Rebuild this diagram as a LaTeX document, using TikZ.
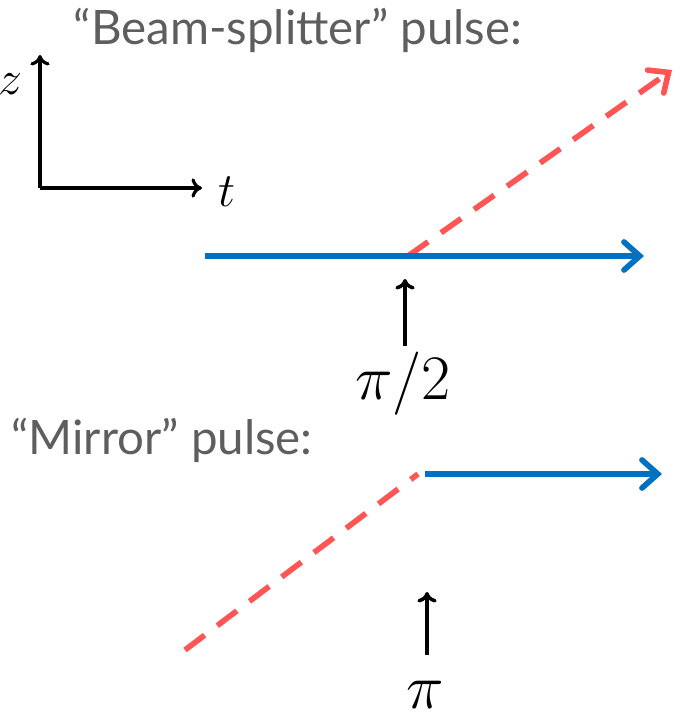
\documentclass[tikz,border=0pt]{standalone}
\usepackage{amsmath}
\usepackage{graphicx}
\usepackage{fontspec}
\setmainfont{Lato}
\usetikzlibrary{positioning,calc,arrows.meta}
\definecolor{beamblue}{HTML}{0070C0}
\definecolor{beamred}{HTML}{FF5555}
\definecolor{labelgray}{HTML}{5E5E5E}
\newcommand{\pulsemath}[1]{\scalebox{1.45}{$#1$}}
\newcommand{\axismath}[1]{\scalebox{1.1}{$#1$}}

\begin{document}
\begin{tikzpicture}[
  x=0.02cm, y=-0.02cm,
  caption/.style={text=labelgray, font=\fontsize{27}{32}\selectfont, inner sep=0pt},
  axis/.style={line width=1.8pt, -{To[length=6pt,width=11pt]}, black},
  axislabel/.style={font=\fontsize{24.88}{30}\selectfont, inner sep=0pt},
  pulselabel/.style={font=\fontsize{24.88}{30}\selectfont, inner sep=0pt},
  path1/.style={line width=3.2pt, beamblue,
                -{Straight Barb[length=9pt,width=16pt,line cap=round]}},
  path2/.style={line width=3.2pt, beamred, dash pattern=on 14pt off 9pt},
  kick/.style={line width=2pt, -{To[length=6pt,width=11pt]}, black},
]
\useasboundingbox (0,0) rectangle (683,719);

% Beam-splitter panel
\node[caption] (bstitle) at (298,30) {“Beam-splitter” pulse:};

% Axes
\coordinate (origin) at (40,188);
\coordinate (ztip) at (40,55);
\coordinate (ttip) at (202,188);
\draw[axis] (origin) -- (ztip);
\draw[axis] (origin) -- (ttip);
\node[axislabel] (zlab) at (11,84) {\axismath{z}};
\node[axislabel] (tlab) at (227,192) {\axismath{t}};

% Split: blue continues, red kicked upward
\coordinate (bsin) at (205,256);
\coordinate (bssplit) at (408,256);
\coordinate (bsout) at (644,256);
\coordinate (bskick) at (672,70);
\draw[path2, -{Straight Barb[length=9pt,width=16pt,line cap=round]}] (bssplit) -- (bskick);
\draw[path1] (bsin) -- (bsout);

% pi/2 pulse marker
\node[pulselabel] (halfpi) at (403,384) {\pulsemath{\pi/2}};
\coordinate (halfpitop) at (405,279);
\coordinate (halfpibase) at (405,346);
\draw[kick] (halfpibase) -- (halfpitop);

% Mirror panel
\node[caption] (mrtitle) at (162,440) {“Mirror” pulse:};

\coordinate (mrin) at (185,650);
\coordinate (mrturn) at (418,474);
\coordinate (mrstart) at (425,474);
\coordinate (mrout) at (662,474);
\draw[path2] (mrin) -- (mrturn);
\draw[path1] (mrstart) -- (mrout);

% pi pulse marker
\node[pulselabel] (fullpi) at (425,695) {\pulsemath{\pi}};
\coordinate (fullpitop) at (427,592);
\coordinate (fullpibase) at (427,655);
\draw[kick] (fullpibase) -- (fullpitop);

\end{tikzpicture}
\end{document}
